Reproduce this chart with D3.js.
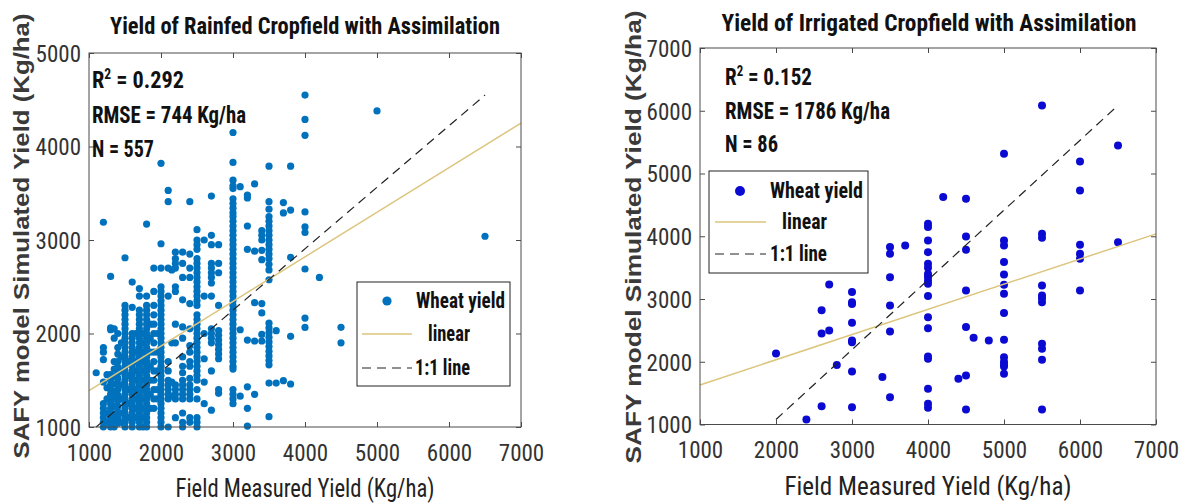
<!DOCTYPE html>
<html>
<head>
<meta charset="utf-8">
<script src="https://cdn.jsdelivr.net/npm/d3@7"></script>
<style>
  body { margin: 0; background: #fff; }
  svg { display: block; }
  .narrow { font-family: "Liberation Sans Narrow", "Arial Narrow", "Roboto Condensed", sans-serif; }
  .tick-label { font-size: 23px; fill: #333; }
  .title { font-size: 24px; font-weight: bold; fill: #111; }
  .xlabel { font-size: 25px; fill: #222; }
  .ylabel { font-family: "Liberation Sans", Arial, sans-serif; font-size: 22px; font-weight: bold; fill: #3a3a3a; }
  .stat { font-size: 23px; font-weight: bold; fill: #111; }
  .legend-text { font-size: 22px; font-weight: bold; fill: #111; }
</style>
</head>
<body>
<svg id="chart" width="1182" height="504"></svg>
<script>
// ---- Rainfed cropfield: measured yield (columns) and simulated yields at each ----
const rainfedMeasured = [1100, 1200, 1250, 1300, 1350, 1400, 1450, 1500, 1550, 1600, 1650, 1700, 1750, 1800,
  1850, 1900, 1950, 2000, 2100, 2150, 2200, 2300, 2400, 2500, 2600, 2700, 2800, 3000, 3100, 3200, 3300,
  3400, 3500, 3600, 3700, 3800, 4000, 4200, 4500, 5000, 6500];
const rainfedSimulated = [
  [1580],
  [3190, 1850, 1800, 1720, 1480, 1250, 1200, 1150, 1100, 1050, 1000],
  [1560, 1420, 1300, 1150, 1050],
  [2610, 2060, 2040, 1560, 1500, 1450, 1400, 1350, 1300, 1250, 1200, 1150, 1100, 1050, 1000],
  [2050, 1950, 1700, 1620, 1540, 1460, 1380, 1300, 1220, 1140, 1060, 1000],
  [2000, 1850, 1780, 1700, 1640, 1580, 1520, 1460, 1400, 1340, 1280, 1220, 1160, 1100, 1040],
  [1900, 1750, 1600, 1450, 1300, 1150, 1050],
  [2810, 2300, 2250, 2200, 2150, 2100, 2050, 2000, 1950, 1900, 1850, 1800, 1750, 1700, 1650, 1600, 1550,
   1500, 1450, 1400, 1350, 1300, 1250, 1200, 1150, 1100, 1050, 1000],
  [1700, 1550, 1400, 1250, 1100],
  [2550, 2280, 2000, 1950, 1900, 1850, 1800, 1750, 1700, 1650, 1600, 1550, 1500, 1450, 1400, 1350, 1300,
   1250, 1200, 1150, 1100, 1050, 1000],
  [2000, 1800, 1700, 1600, 1500, 1400, 1300, 1200, 1100],
  [2480, 2400, 2250, 2200, 2150, 2100, 2050, 2000, 1950, 1900, 1850, 1800, 1750, 1700, 1650, 1600, 1550,
   1500, 1450, 1400, 1350, 1300, 1250, 1200, 1150, 1100, 1050, 1000],
  [2000, 1900, 1800, 1700, 1600, 1500, 1400, 1300, 1200, 1100, 1000],
  [3170, 2400, 2300, 2250, 2200, 2150, 2100, 2050, 2000, 1950, 1900, 1850, 1800, 1750, 1700, 1650, 1600,
   1550, 1500, 1450, 1400, 1350, 1300, 1250, 1200, 1150, 1100, 1050, 1000],
  [2100, 1950, 1800, 1650, 1500, 1350, 1200],
  [2700, 2450, 2300, 2200, 2100, 2000, 1900, 1800, 1700, 1600, 1500, 1400, 1300, 1200],
  [2000, 1800, 1600, 1400, 1300],
  [3820, 2960, 2700, 2500, 2450, 2400, 2350, 2300, 2250, 2200, 2150, 2100, 2050, 2000, 1950, 1900, 1850,
   1800, 1750, 1700, 1650, 1600, 1550, 1500, 1450, 1400, 1350, 1300, 1250, 1200, 1150, 1100, 1050, 1000],
  [3530, 3410, 2700, 2400, 1700, 1600, 1500, 1450, 1400, 1350, 1300, 1000],
  [2680, 1900, 1480, 1330],
  [2870, 2800, 2750, 2700, 2500, 2450, 2100, 1900, 1450, 1400, 1350, 1300, 1100],
  [2870, 2750, 2600, 2360, 2070, 1950, 1750, 1650, 1580, 1500, 1450, 1400, 1350, 1300, 1150, 1050, 1000],
  [3410, 2850, 2700, 2600, 2320, 2050, 1870, 1800, 1700, 1650, 1520, 1450, 1400, 1350, 1300, 1100, 1050],
  [3110, 3000, 2950, 2900, 2800, 2750, 2700, 2650, 2600, 2550, 2500, 2450, 2400, 2350, 2300, 2200, 2150,
   2100, 2050, 2000, 1950, 1900, 1850, 1800, 1750, 1700, 1650, 1600, 1550, 1500, 1400, 1300, 1100, 1050, 1000],
  [3000, 2400, 2000, 1730, 1480, 1250],
  [3470, 3050, 2950, 2750, 2700, 2650, 2600, 2540, 2400, 2050, 2000, 1950, 1900, 1600, 1180],
  [2950, 2750, 2650, 2300, 2030, 1980, 1930, 1880, 1830, 1780, 1730, 1400, 1360],
  [4150, 3830, 3640, 3580, 3550, 3440, 3390, 3340, 3290, 3250, 3200, 3150, 3100, 3050, 3000, 2950, 2900,
   2850, 2800, 2750, 2700, 2650, 2600, 2550, 2500, 2450, 2400, 2350, 2300, 2250, 2200, 2150, 2100, 2050,
   2000, 1950, 1900, 1850, 1800, 1750, 1700, 1650, 1620, 1400, 1350, 1300, 1250],
  [3570, 2040, 1330],
  [3480, 3450, 3150, 2900, 1930, 1430, 1200, 1010],
  [3600, 2880, 2330, 1920, 1350],
  [3100, 3050, 3000, 2890, 2790, 2320, 2220, 1990, 1920],
  [3790, 3410, 3330, 3250, 3200, 3150, 3100, 3050, 3000, 2950, 2900, 2850, 2800, 2740, 2680, 2575, 2110,
   2060, 2010, 1960, 1910, 1860, 1810, 1760, 1710, 1665, 1470, 1110],
  [2030, 1470],
  [3400, 3290, 1495],
  [3790, 3320, 2815, 1970, 1460],
  [4550, 4290, 4120, 3300, 3140, 3080, 2690, 2165, 2065],
  [2600],
  [2066, 1900],
  [4380],
  [3040]
];

// ---- Irrigated cropfield ----
const irrigatedMeasured = [2000, 2400, 2600, 2700, 2800, 3000, 3400, 3500, 3700, 4000, 4200, 4400, 4500,
  4600, 4800, 5000, 5500, 6000, 6500];
const irrigatedSimulated = [
  [2130],
  [1080],
  [2820, 2450, 1290],
  [3230, 2500],
  [1950],
  [3110, 2950, 2920, 2620, 2340, 2310, 1845, 1276],
  [1755],
  [3827, 3720, 3348, 2897, 2482, 1436],
  [3853],
  [4199, 4146, 3933, 3747, 3560, 3500, 3400, 3350, 3290, 3242, 3046, 2711, 2535, 2084, 2047, 1568, 1330, 1266],
  [4624],
  [1728],
  [4597, 3997, 3784, 3136, 2552, 1781, 1239],
  [2381],
  [2339],
  [5315, 3933, 3853, 3588, 3391, 3226, 3083, 2775, 2350, 2073, 2000, 1960, 1925, 1808],
  [6085, 4039, 3976, 3216, 3056, 3010, 2950, 2286, 2206, 2031, 1239],
  [5192, 4730, 3864, 3720, 3641, 3136],
  [5447, 3906]
];

// ---- Axis ticks ----
const xTicks = [1000, 2000, 3000, 4000, 5000, 6000, 7000];
const rainfedYTicks = [1000, 2000, 3000, 4000, 5000];
const irrigatedYTicks = [1000, 2000, 3000, 4000, 5000, 6000, 7000];

// ---- Linear fits [slope, intercept] and summary statistics ----
const rainfedFit = [0.4767, 913];
const irrigatedFit = [0.4013, 1229];
const rainfedStats = { r2: "0.292", rmse: "744", n: "557" };
const irrigatedStats = { r2: "0.152", rmse: "1786", n: "86" };

const titles = ["Yield of Rainfed Cropfield with Assimilation", "Yield of Irrigated Cropfield with Assimilation"];
const xLabel = "Field Measured Yield (Kg/ha)";
const yLabel = "SAFY model Simulated Yield (Kg/ha)";
const legendLabels = ["Wheat yield", "linear", "1:1 line"];

const FIT_COLOR = "#dcc57e";
const AXIS_COLOR = "#4a4a4a";

const svg = d3.select("#chart");

// Text helper: squeezes a string into a measured width
function fitText(sel, w) {
  if (w) sel.attr("textLength", w).attr("lengthAdjust", "spacingAndGlyphs");
  return sel;
}

function drawPanel(cfg) {
  const g = svg.append("g");
  const x = d3.scaleLinear().domain(d3.extent(xTicks)).range([cfg.left, cfg.right]);
  const y = d3.scaleLinear().domain(d3.extent(cfg.yTicks)).range([cfg.bottom, cfg.top]);

  const pts = cfg.measured.flatMap((mx, i) => cfg.simulated[i].map(sy => [mx, sy]));

  // Scatter
  g.append("g").selectAll("circle").data(pts).join("circle")
    .attr("cx", d => x(d[0])).attr("cy", d => y(d[1]))
    .attr("r", cfg.r).attr("fill", cfg.color);

  // Linear fit across the axis range
  const [slope, intercept] = cfg.fit;
  const xd = x.domain();
  g.append("line")
    .attr("x1", x(xd[0])).attr("y1", y(slope * xd[0] + intercept))
    .attr("x2", x(xd[1])).attr("y2", y(slope * xd[1] + intercept))
    .attr("stroke", FIT_COLOR).attr("stroke-width", 1.5);

  // Reference line from the smallest to the largest observed values
  const mx = d3.extent(pts, d => d[0]);
  const sy = d3.extent(pts, d => d[1]);
  g.append("line")
    .attr("x1", x(mx[0])).attr("y1", y(sy[0]))
    .attr("x2", x(mx[1])).attr("y2", y(sy[1]))
    .attr("stroke", "#222").attr("stroke-width", 1.2).attr("stroke-dasharray", "9,6");

  // Axes with inward ticks on all four sides
  const bottom = g.append("g").attr("transform", `translate(0,${cfg.bottom})`)
    .call(d3.axisBottom(x).tickValues(xTicks).tickSizeInner(-5).tickSizeOuter(0).tickPadding(0).tickFormat(d3.format("d")));
  bottom.selectAll("text").attr("class", "narrow tick-label").attr("dy", null).attr("y", cfg.xTickBase);
  const top = g.append("g").attr("transform", `translate(0,${cfg.top})`)
    .call(d3.axisTop(x).tickValues(xTicks).tickSizeInner(-5).tickSizeOuter(0).tickFormat(""));
  const left = g.append("g").attr("transform", `translate(${cfg.left},0)`)
    .call(d3.axisLeft(y).tickValues(cfg.yTicks).tickSizeInner(-5).tickSizeOuter(0).tickPadding(0).tickFormat(d3.format("d")));
  left.selectAll("text").attr("class", "narrow tick-label").attr("x", -cfg.yTickGap).attr("dy", "0.36em");
  const right = g.append("g").attr("transform", `translate(${cfg.right},0)`)
    .call(d3.axisRight(y).tickValues(cfg.yTicks).tickSizeInner(-5).tickSizeOuter(0).tickFormat(""));
  [bottom, top, left, right].forEach(a => {
    a.select(".domain").remove();
    a.selectAll("line").attr("stroke", AXIS_COLOR);
    a.attr("font-family", null).attr("font-size", null);
  });
  g.append("rect")
    .attr("x", cfg.left).attr("y", cfg.top)
    .attr("width", cfg.right - cfg.left).attr("height", cfg.bottom - cfg.top)
    .attr("fill", "none").attr("stroke", AXIS_COLOR).attr("stroke-width", 1);

  // Title and axis labels
  fitText(g.append("text").attr("class", "narrow title")
    .attr("x", cfg.titleX).attr("y", cfg.titleY).attr("text-anchor", "middle")
    .text(cfg.title), cfg.titleW);
  fitText(g.append("text").attr("class", "narrow xlabel")
    .attr("x", cfg.xLabelX).attr("y", cfg.xLabelY).attr("text-anchor", "middle")
    .text(xLabel), cfg.xLabelW);
  fitText(g.append("text").attr("class", "ylabel")
    .attr("transform", `translate(${cfg.yLabelX},${cfg.yLabelY}) rotate(-90)`)
    .attr("text-anchor", "middle")
    .text(yLabel), cfg.yLabelW);

  // Summary statistics
  const st = cfg.stats;
  const r2 = g.append("text").attr("class", "narrow stat").attr("x", cfg.statX).attr("y", cfg.statY[0]);
  r2.append("tspan").text("R");
  r2.append("tspan").attr("dy", -9).attr("font-size", "14px").text("2");
  r2.append("tspan").attr("dy", 9).text(" = " + st.r2);
  fitText(r2, cfg.statW[0]);
  fitText(g.append("text").attr("class", "narrow stat").attr("x", cfg.statX).attr("y", cfg.statY[1])
    .text(`RMSE = ${st.rmse} Kg/ha`), cfg.statW[1]);
  fitText(g.append("text").attr("class", "narrow stat").attr("x", cfg.statX).attr("y", cfg.statY[2])
    .text(`N = ${st.n}`), cfg.statW[2]);

  // Legend
  const L = cfg.legend;
  const lg = g.append("g");
  lg.append("rect").attr("x", L.x).attr("y", L.y).attr("width", L.w).attr("height", L.h)
    .attr("fill", "#fff").attr("stroke", "#222").attr("stroke-width", 1);
  lg.append("circle").attr("cx", L.markerX).attr("cy", L.rows[0]).attr("r", cfg.r + 1).attr("fill", cfg.color);
  lg.append("line").attr("x1", L.lineX[0]).attr("x2", L.lineX[1]).attr("y1", L.rows[1]).attr("y2", L.rows[1])
    .attr("stroke", FIT_COLOR).attr("stroke-width", 1.5);
  lg.append("line").attr("x1", L.lineX[0]).attr("x2", L.lineX[1]).attr("y1", L.rows[2]).attr("y2", L.rows[2])
    .attr("stroke", "#222").attr("stroke-width", 1.2).attr("stroke-dasharray", "9,6");
  legendLabels.forEach((t, i) => {
    fitText(lg.append("text").attr("class", "narrow legend-text")
      .attr("x", L.textX[i]).attr("y", L.rows[i] + 7).text(t), L.textW[i]);
  });
}

drawPanel({
  measured: rainfedMeasured, simulated: rainfedSimulated, fit: rainfedFit, stats: rainfedStats,
  yTicks: rainfedYTicks, title: titles[0], color: "#0072BD", r: 3.6,
  left: 89, right: 521, top: 53, bottom: 427,
  xTickBase: 34, yTickGap: 8,
  titleX: 305, titleY: 34, titleW: 390,
  xLabelX: 305, xLabelY: 497, xLabelW: 259,
  yLabelX: 29, yLabelY: 236, yLabelW: 445,
  statX: 92, statY: [88, 123, 157], statW: [92, 154, 62],
  legend: { x: 357, y: 282, w: 153, h: 104, markerX: 387, lineX: [362, 412],
            rows: [301, 334, 368], textX: [416, 428, 415], textW: [89, 42, 55] }
});

drawPanel({
  measured: irrigatedMeasured, simulated: irrigatedSimulated, fit: irrigatedFit, stats: irrigatedStats,
  yTicks: irrigatedYTicks, title: titles[1], color: "#0a0ad2", r: 4,
  left: 700, right: 1156, top: 48, bottom: 424.5,
  xTickBase: 33, yTickGap: 8,
  titleX: 929, titleY: 31, titleW: 415,
  xLabelX: 928, xLabelY: 495, xLabelW: 287,
  yLabelX: 641, yLabelY: 237, yLabelW: 453,
  statX: 725, statY: [85, 119, 152], statW: [87, 165, 53],
  legend: { x: 709, y: 171, w: 159, h: 102, markerX: 740, lineX: [715, 766],
            rows: [191, 222, 254], textX: [770, 782, 770], textW: [93, 45, 57] }
});
</script>
</body>
</html>
